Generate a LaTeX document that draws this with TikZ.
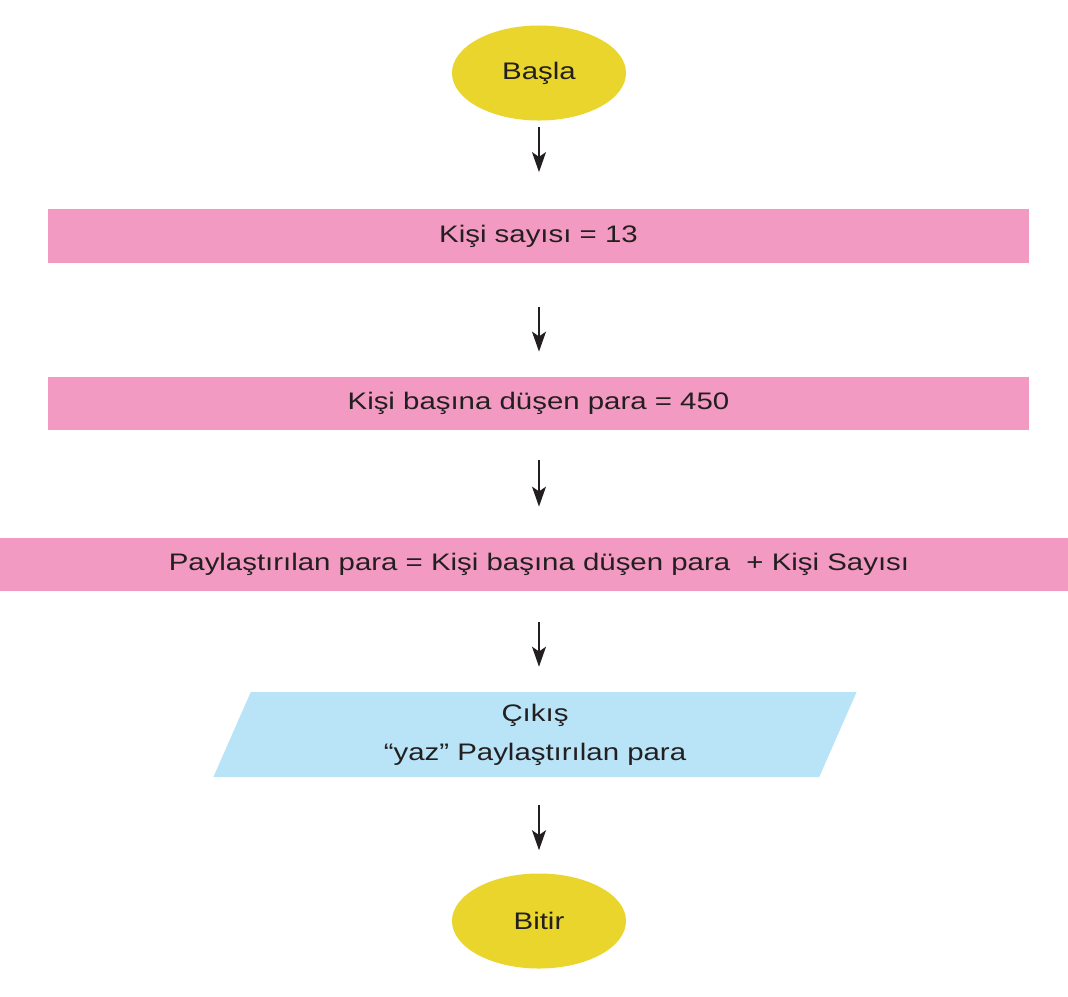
\documentclass[tikz,border=0pt]{standalone}
\usepackage{fontspec}
\setmainfont{Liberation Sans}[FakeStretch=1.23]
\usepackage{tikz}
\usetikzlibrary{shapes.geometric,arrows.meta}
\definecolor{yellow}{HTML}{E9D52C}
\definecolor{pink}{HTML}{F39AC2}
\definecolor{sky}{HTML}{B9E4F8}
\definecolor{ink}{HTML}{231F20}

\begin{document}
\begin{tikzpicture}[x=.025cm,y=-.025cm,
  every node/.style={font=\fontsize{17}{27.6}\selectfont,text=ink},
  term/.style={ellipse,fill=yellow,minimum width=4.35cm,minimum height=2.375cm,inner sep=0pt},
  procbox/.style={rectangle,fill=pink,minimum height=1.33cm,inner sep=0pt},
  iobox/.style={trapezium,trapezium left angle=72,trapezium right angle=108,trapezium stretches,
    fill=sky,minimum width=16.1cm,minimum height=2.125cm,inner sep=0pt,align=center},
  arr/.style={-{Stealth[length=5mm,width=3.5mm,inset=1.2mm]},line width=1pt,ink}]
  \useasboundingbox (0,0) rectangle (1068,996);
  \node[term] (start) at (539,73) {Başla};
  \node[procbox,minimum width=24.525cm] (count) at (538.5,236) {Kişi sayısı = 13};
  \node[procbox,minimum width=24.525cm] (share) at (538.5,403.5) {Kişi başına düşen para = 450};
  \node[procbox,minimum width=27cm] (total) at (539,564.5) {Paylaştırılan para = Kişi başına düşen para\ \ + Kişi Sayısı};
  \node[iobox] (out) at (535,734.5) {Çıkış\\“yaz” Paylaştırılan para};
  \node[term] (stop) at (539,921) {Bitir};
  \draw[arr,shorten <=1.6mm,shorten >=9.25mm] (start.south) -- (count.north -| start);
  \draw[arr,shorten <=11mm,shorten >=6.25mm] (count.south -| start) -- (share.north -| start);
  \draw[arr,shorten <=7.5mm,shorten >=7.75mm] (share.south -| start) -- (total.north -| start);
  \draw[arr,shorten <=7.75mm,shorten >=6.25mm] (total.south -| start) -- (out.north -| start);
  \draw[arr,shorten <=7mm,shorten >=5.75mm] (out.south -| start) -- (stop.north);
\end{tikzpicture}
\end{document}
